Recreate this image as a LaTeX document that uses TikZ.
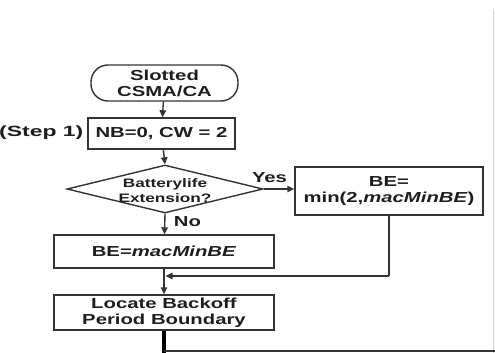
\documentclass[tikz,border=0pt]{standalone}
\usepackage{fontspec}
\usetikzlibrary{arrows.meta,shapes.geometric}
\newfontfamily\flowfont{Liberation Sans}[FakeStretch=1.4]
\newfontfamily\widefont{Liberation Sans}[FakeStretch=1.55]
\definecolor{ink}{HTML}{1E1E1E}
\definecolor{edge}{HTML}{333333}
\definecolor{frame}{HTML}{CFCFCF}
\begin{document}
\begin{tikzpicture}[x=1pt,y=-1pt,
  every node/.style={font=\flowfont\bfseries\fontsize{14.5}{16}\selectfont, text=ink, align=center, inner sep=0pt},
  box/.style={draw=edge, line width=1.4pt, rectangle},
  term/.style={box, rounded corners=17pt},
  cond/.style={draw=edge, line width=1.4pt, diamond, aspect=4.08},
  lbl/.style={},
  flow/.style={draw=edge, line width=1.4pt, -{Triangle[length=7pt,width=6.5pt]}},
  wire/.style={draw=edge, line width=1.4pt}]
  \useasboundingbox (0,0) rectangle (495,353);

  % frame edge of the page
  \draw[frame, line width=1pt] (493,10) -- (493,353);

  % main column
  \node[term, minimum width=147, minimum height=36] (start) at (164.5,83) {Slotted\\CSMA/CA};
  \node[box, minimum width=147, minimum height=31] (init) at (161.5,133.5) {NB=0, CW = 2};
  \node[lbl, anchor=east, font=\widefont\bfseries\fontsize{14.8}{16}\selectfont] (steplbl) at (83.5,133) {(Step 1)};
  \node[cond, minimum width=196, minimum height=48] (ext) at (165,189) {};
  \node[font=\flowfont\bfseries\fontsize{12.3}{15}\selectfont] (exttxt) at (165,190.5) {Batterylife\\Extension?};
  \node[box, minimum width=188, minimum height=48] (bemin) at (389,191) {BE=\\min(2,\textit{macMinBE})};
  \node[lbl] (yes) at (269.5,178) {Yes};
  \node[lbl] (no) at (187.5,222) {No};
  \node[box, minimum width=220, minimum height=33] (bemac) at (164,251.5) {BE=\textit{macMinBE}};
  \node[box, minimum width=220, minimum height=35] (locate) at (164,312.5) {Locate Backoff\\Period Boundary};

  \coordinate (join) at (bemac.south |- 0,276);
  \coordinate (turn) at (bemin.south |- 0,276);
  \coordinate (down) at (locate.south |- 0,353);
  \coordinate (bottomr) at (495,351);

  % connectors
  \draw[flow] (start) -- (init);
  \draw[flow] (init) -- (ext.north);
  \draw[flow] (ext.east) -- (bemin.west |- ext.east);
  \draw[flow] (ext.south) -- (bemac);
  \draw[flow] (bemac) -- (locate);
  \draw[wire] (bemin.south) -- (turn);
  \draw[flow] (turn) -- ([xshift=1.5pt]join);
  \draw[draw=black, line width=3.5pt] (locate.south) -- (down);
  \draw[edge, line width=1.2pt] (down |- bottomr) -- (bottomr);
\end{tikzpicture}
\end{document}
